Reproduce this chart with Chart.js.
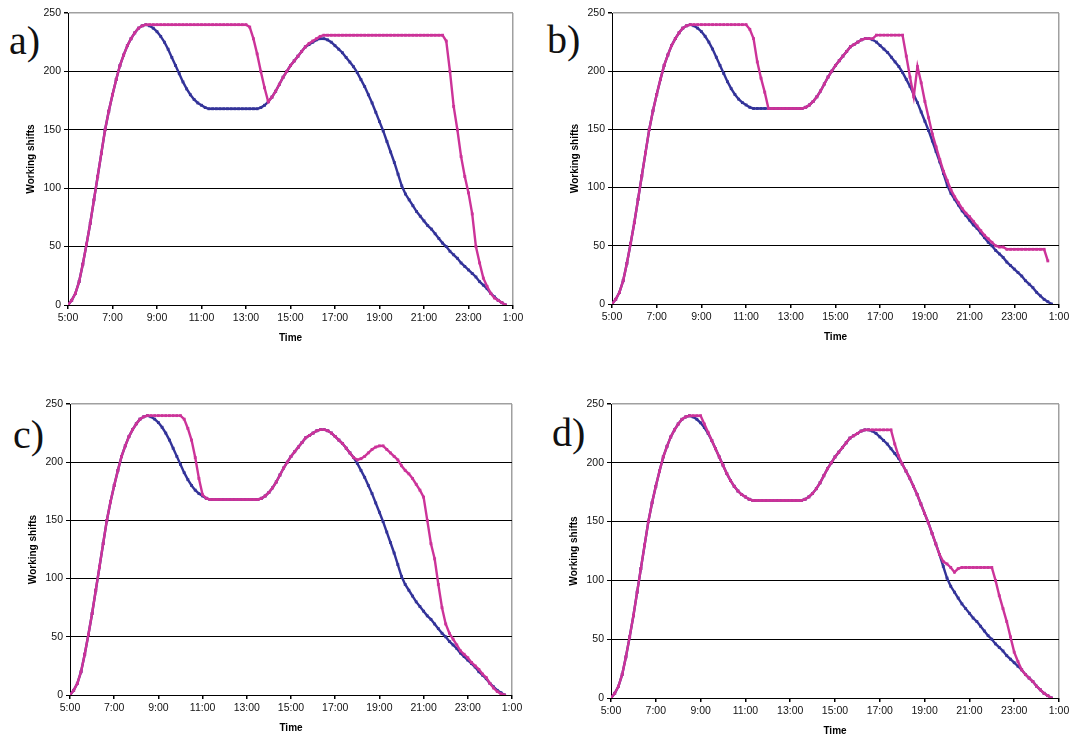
<!DOCTYPE html>
<html>
<head>
<meta charset="utf-8">
<script src="https://cdn.jsdelivr.net/npm/chart.js@4.4.0/dist/chart.umd.min.js"></script>
<style>
  body { margin: 0; background: #fff; width: 1074px; height: 738px; position: relative; overflow: hidden; }
  canvas { position: absolute; }
  .tag { position: absolute; font-family: 'Liberation Serif', 'Times New Roman', serif; font-size: 40px; line-height: 40px; color: #111; }
</style>
</head>
<body>
<div class="tag" style="left:9px;top:21px">a)</div>
<div class="tag" style="left:547px;top:20px">b)</div>
<div class="tag" style="left:13px;top:415px">c)</div>
<div class="tag" style="left:552px;top:413px">d)</div>
<canvas id="chartA" width="537" height="369" style="left:0;top:0"></canvas>
<canvas id="chartB" width="537" height="369" style="left:537px;top:0"></canvas>
<canvas id="chartC" width="537" height="369" style="left:0;top:369px"></canvas>
<canvas id="chartD" width="537" height="369" style="left:537px;top:369px"></canvas>
<script>
// sample times: every 10 minutes from 5:00 to 0:40 (hours, 24.67 = 0:40 next day)
const times = [];
for (let m = 0; m <= 1180; m += 10) times.push(5 + m / 60);

const xTickHours = [5, 7, 9, 11, 13, 15, 17, 19, 21, 23, 25];
const xTickLabels = ['5:00', '7:00', '9:00', '11:00', '13:00', '15:00', '17:00', '19:00', '21:00', '23:00', '1:00'];
const yTicks = [0, 50, 100, 150, 200, 250];

// demand curve (same in all four panels), one row per hour
const demand = [
  0, 4, 10, 20, 35, 52,
  70, 90, 110, 130, 150, 166,
  180, 193, 205, 214, 222, 228,
  233, 237, 239, 240, 239, 237,
  234, 230, 225, 219, 212, 205,
  198, 191, 185, 180, 176, 173,
  171, 169, 168, 168, 168, 168,
  168, 168, 168, 168, 168, 168,
  168, 168, 168, 168, 169, 171,
  174, 178, 183, 189, 195, 200,
  205, 209, 213, 217, 221, 223,
  225, 227, 228, 228, 227, 225,
  222, 219, 216, 212, 208, 204,
  199, 193, 187, 180, 173, 165,
  157, 149, 140, 131, 122, 112,
  102, 95, 90, 85, 80, 76,
  72, 68, 65, 61, 57, 53,
  50, 46, 43, 40, 36, 33,
  30, 27, 24, 20, 17, 14,
  10, 7, 4, 2, 0
];

const shiftsA = [
  0, 4, 10, 20, 35, 52,
  70, 90, 110, 130, 150, 166,
  180, 193, 205, 214, 222, 228,
  233, 237, 239, 240, 240, 240,
  240, 240, 240, 240, 240, 240,
  240, 240, 240, 240, 240, 240,
  240, 240, 240, 240, 240, 240,
  240, 240, 240, 240, 240, 240,
  240, 238, 228, 215, 200, 186,
  174, 178, 183, 189, 195, 200,
  205, 209, 213, 217, 221, 224,
  226, 228, 230, 231, 231, 231,
  231, 231, 231, 231, 231, 231,
  231, 231, 231, 231, 231, 231,
  231, 231, 231, 231, 231, 231,
  231, 231, 231, 231, 231, 231,
  231, 231, 231, 231, 231, 231,
  226, 200, 170, 150, 127, 110,
  96, 78, 50, 36, 23, 16,
  10, 6, 4, 2, 0
];

const shiftsB = [
  0, 4, 10, 20, 35, 52,
  70, 90, 110, 130, 150, 166,
  180, 193, 205, 214, 222, 228,
  233, 237, 239, 240, 240, 240,
  240, 240, 240, 240, 240, 240,
  240, 240, 240, 240, 240, 240,
  240, 236, 228, 208, 194, 182,
  168, 168, 168, 168, 168, 168,
  168, 168, 168, 168, 169, 171,
  174, 178, 183, 189, 195, 200,
  205, 209, 213, 217, 221, 223,
  225, 227, 228, 228, 228, 231,
  231, 231, 231, 231, 231, 231,
  231, 213, 195, 178, 204, 190,
  174, 160, 146, 135, 124, 114,
  106, 98, 92, 87, 82, 78,
  75, 71, 67, 63, 59, 56,
  53, 50, 49, 49, 47, 47,
  47, 47, 47, 47, 47, 47,
  47, 47, 47, 37, null
];

const shiftsC = [
  0, 4, 10, 20, 35, 52,
  70, 90, 110, 130, 150, 166,
  180, 193, 205, 214, 222, 228,
  233, 237, 239, 240, 240, 240,
  240, 240, 240, 240, 240, 240,
  240, 237, 229, 219, 204, 186,
  172, 169, 168, 168, 168, 168,
  168, 168, 168, 168, 168, 168,
  168, 168, 168, 168, 169, 171,
  174, 178, 183, 189, 195, 200,
  205, 209, 213, 217, 221, 223,
  225, 227, 228, 228, 227, 225,
  222, 219, 216, 212, 208, 204,
  202, 203, 205, 208, 211, 213,
  214, 214, 211, 208, 205, 202,
  197, 193, 190, 186, 181, 176,
  170, 150, 130, 117, 95, 75,
  61, 53, 48, 43, 38, 35,
  32, 28, 25, 22, 18, 15,
  10, 6, 3, 1, 0
];

const shiftsD = [
  0, 4, 10, 20, 35, 52,
  70, 90, 110, 130, 150, 166,
  180, 193, 205, 214, 222, 228,
  233, 237, 239, 240, 240, 240,
  240, 233, 226, 219, 212, 205,
  198, 191, 185, 180, 176, 173,
  171, 169, 168, 168, 168, 168,
  168, 168, 168, 168, 168, 168,
  168, 168, 168, 168, 169, 171,
  174, 178, 183, 189, 195, 200,
  205, 209, 213, 217, 221, 223,
  225, 227, 228, 228, 228, 228,
  228, 228, 228, 228, 216, 206,
  199, 193, 187, 180, 173, 165,
  157, 149, 140, 131, 122, 116,
  114, 111, 107, 110, 111, 111,
  111, 111, 111, 111, 111, 111,
  111, 100, 87, 76, 65, 52,
  39, 31, 24, 20, 17, 14,
  10, 7, 4, 2, 0
];

const BLUE = '#333399';
const MAGENTA = '#cc3399';
const FONT = "'Liberation Sans', Arial, sans-serif";
const W = 537, H = 369;

function points(values) {
  return values.map((v, i) => ({ x: times[i], y: v }));
}

function lineSet(label, values, color, order) {
  return {
    label: label,
    data: points(values),
    borderColor: color,
    backgroundColor: color,
    borderWidth: 2.4,
    pointStyle: 'rect',
    pointRadius: 2,
    pointBorderWidth: 0,
    tension: 0,
    order: order
  };
}

// pos = canvas top-left on the page, area = plot box on the page, timeY = centre of "Time"
function drawPanel(id, shifts, pos, area, timeY) {
  const padTop = area.t - pos.top;
  const padRight = pos.left + W - area.r;
  const yWidth = area.l - pos.left;
  const padBottom = pos.top + H - (timeY + 6);
  const xHeight = pos.top + H - padBottom - area.b;
  const yTitlePad = area.l - 37 - pos.left - 6;

  new Chart(document.getElementById(id), {
    type: 'line',
    data: {
      datasets: [
        lineSet('Scheduled shifts', shifts, MAGENTA, 0),
        lineSet('Demand', demand, BLUE, 1)
      ]
    },
    options: {
      responsive: false,
      animation: false,
      layout: { padding: { top: padTop, right: padRight, bottom: padBottom, left: 0 } },
      plugins: { legend: { display: false }, tooltip: { enabled: false } },
      scales: {
        x: {
          type: 'linear',
          min: 5,
          max: 25,
          afterFit: s => { s.height = xHeight; },
          afterBuildTicks: s => { s.ticks = xTickHours.map(v => ({ value: v })); },
          ticks: {
            callback: (v, i) => xTickLabels[i],
            font: { family: FONT, size: 10.5 },
            color: '#111',
            maxRotation: 0,
            autoSkip: false,
            padding: 3
          },
          grid: {
            drawOnChartArea: true,
            color: c => (c.tick && c.tick.value === 25) ? '#a0a0a0' : 'rgba(0,0,0,0)',
            tickColor: '#000',
            tickLength: 4,
            lineWidth: 1.5
          },
          border: { color: '#000', width: 1 },
          title: {
            display: true,
            text: 'Time',
            font: { family: FONT, size: 10, weight: 'bold' },
            color: '#000',
            padding: { top: 0, bottom: 0 }
          }
        },
        y: {
          min: 0,
          max: 250,
          afterFit: s => { s.width = yWidth; },
          afterBuildTicks: s => { s.ticks = yTicks.map(v => ({ value: v })); },
          ticks: {
            font: { family: FONT, size: 10.5 },
            color: '#111',
            padding: 3
          },
          grid: {
            color: c => (c.tick && c.tick.value === 250) ? '#a0a0a0' : '#000',
            lineWidth: c => (c.tick && c.tick.value === 250) ? 1.5 : 1,
            tickColor: '#000',
            tickLength: 4
          },
          border: { color: '#000', width: 1 },
          title: {
            display: true,
            text: 'Working shifts',
            font: { family: FONT, size: 10, weight: 'bold' },
            color: '#000',
            padding: { top: yTitlePad, bottom: 0 }
          }
        }
      }
    }
  });
}

drawPanel('chartA', shiftsA, { left: 0, top: 0 }, { l: 68, r: 513, t: 13, b: 305 }, 338);
drawPanel('chartB', shiftsB, { left: 537, top: 0 }, { l: 612, r: 1059, t: 13, b: 304 }, 337);
drawPanel('chartC', shiftsC, { left: 0, top: 369 }, { l: 70, r: 512, t: 404, b: 695 }, 728);
drawPanel('chartD', shiftsD, { left: 537, top: 369 }, { l: 611, r: 1059, t: 404, b: 698 }, 731);
</script>
</body>
</html>
